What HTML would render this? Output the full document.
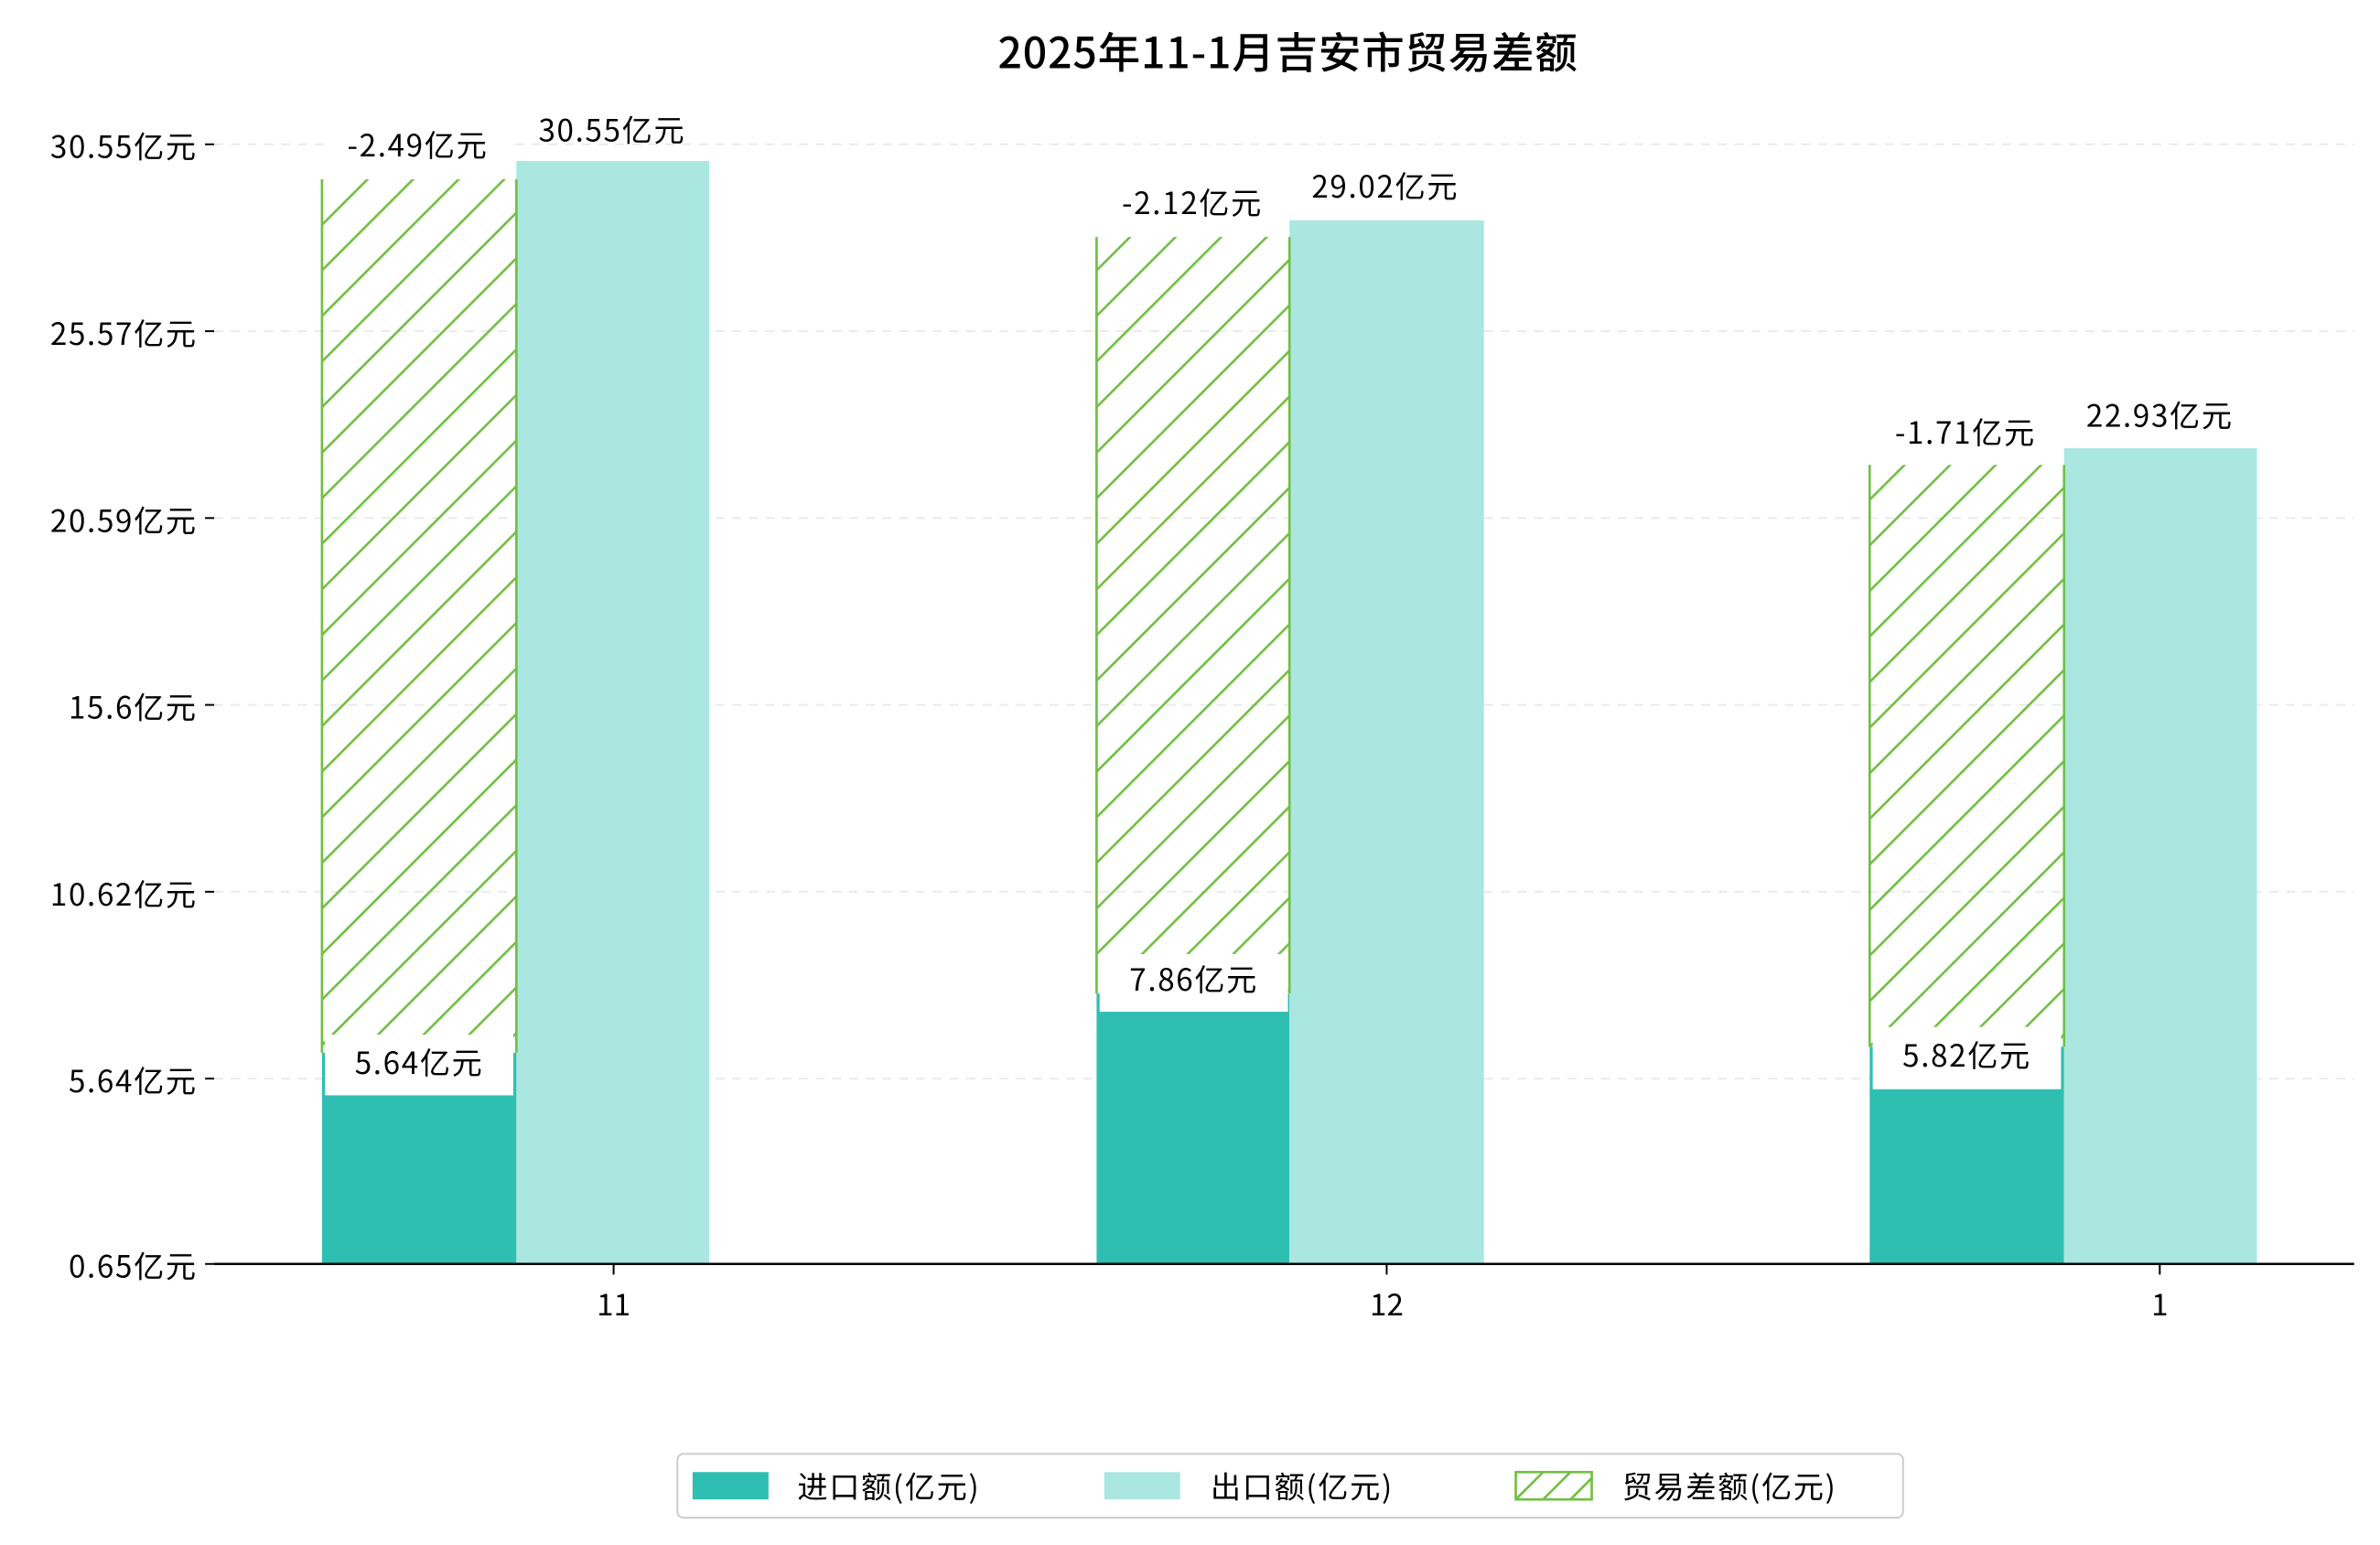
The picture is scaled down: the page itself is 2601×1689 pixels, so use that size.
<!DOCTYPE html>
<html><head><meta charset="utf-8"><style>
html,body{margin:0;padding:0;background:#fff;}
svg{display:block;}
text{font-family:"WenQuanYi Zen Hei","Noto Sans CJK SC","Liberation Sans",sans-serif;fill:#000;}
</style></head><body>
<svg width="2601" height="1689" viewBox="0 0 1567 1017" preserveAspectRatio="none" xmlns="http://www.w3.org/2000/svg">
<defs>
<pattern id="h" patternUnits="userSpaceOnUse" width="30" height="30">
<path d="M-15,15 L15,-15 M0,30 L30,0 M15,45 L45,15" stroke="#72bf44" stroke-width="1.6"/>
</pattern>
</defs>
<rect width="1567" height="1017" fill="#fff"/>
<text x="848" y="45" font-size="28" text-anchor="middle" font-weight="500" letter-spacing="0.5">2025年11-1月吉安市贸易差额</text>
<g stroke="#ebebeb" stroke-width="1.2" stroke-dasharray="6,5">
<line x1="141" y1="95" x2="1550" y2="95"/><line x1="141" y1="218" x2="1550" y2="218"/>
<line x1="141" y1="341" x2="1550" y2="341"/><line x1="141" y1="464" x2="1550" y2="464"/>
<line x1="141" y1="587" x2="1550" y2="587"/><line x1="141" y1="710" x2="1550" y2="710"/>
</g>
<g font-size="20" text-anchor="end" letter-spacing="1">
<text x="130" y="104">30.55亿元</text><text x="130" y="227">25.57亿元</text>
<text x="130" y="350">20.59亿元</text><text x="130" y="473">15.6亿元</text>
<text x="130" y="596">10.62亿元</text><text x="130" y="719">5.64亿元</text>
<text x="130" y="841">0.65亿元</text>
</g>
<g stroke="#000" stroke-width="1.2">
<line x1="135" y1="95" x2="141" y2="95"/><line x1="135" y1="218" x2="141" y2="218"/>
<line x1="135" y1="341" x2="141" y2="341"/><line x1="135" y1="464" x2="141" y2="464"/>
<line x1="135" y1="587" x2="141" y2="587"/><line x1="135" y1="710" x2="141" y2="710"/>
<line x1="135" y1="832" x2="141" y2="832"/>
<line x1="404" y1="832" x2="404" y2="839"/><line x1="913" y1="832" x2="913" y2="839"/><line x1="1422" y1="832" x2="1422" y2="839"/>
</g>
<rect x="212" y="693" width="128" height="139" fill="#2fbfb2"/>
<rect x="722" y="654" width="127" height="178" fill="#2fbfb2"/>
<rect x="1231" y="689" width="128" height="143" fill="#2fbfb2"/>
<rect x="340" y="106" width="127" height="726" fill="#aae7e1"/>
<rect x="849" y="145" width="128" height="687" fill="#aae7e1"/>
<rect x="1359" y="295" width="127" height="537" fill="#aae7e1"/>
<rect x="212" y="118" width="128" height="575" fill="url(#h)"/>
<rect x="722" y="156" width="127" height="498" fill="url(#h)"/>
<rect x="1231" y="306" width="128" height="383" fill="url(#h)"/>
<g stroke="#72bf44" stroke-width="1.6">
<line x1="212" y1="118" x2="212" y2="693"/><line x1="340" y1="118" x2="340" y2="693"/>
<line x1="722" y1="156" x2="722" y2="654"/><line x1="849" y1="156" x2="849" y2="654"/>
<line x1="1231" y1="306" x2="1231" y2="689"/><line x1="1359" y1="306" x2="1359" y2="689"/>
</g>
<g fill="#fff">
<rect x="214" y="76" width="122" height="41"/>
<rect x="724" y="113" width="122" height="42"/>
<rect x="1233" y="264" width="122" height="41"/>
<rect x="214" y="681" width="124" height="40"/>
<rect x="724" y="628" width="124" height="38"/>
<rect x="1233" y="676" width="124" height="41"/>
</g>
<g font-size="20" text-anchor="middle" letter-spacing="1">
<text x="275" y="103">-2.49亿元</text>
<text x="403" y="93">30.55亿元</text>
<text x="785" y="141">-2.12亿元</text>
<text x="912" y="130">29.02亿元</text>
<text x="1294" y="292">-1.71亿元</text>
<text x="1422" y="281">22.93亿元</text>
<text x="276" y="707">5.64亿元</text>
<text x="786" y="652">7.86亿元</text>
<text x="1295" y="702">5.82亿元</text>
</g>
<line x1="141" y1="832" x2="1550" y2="832" stroke="#000" stroke-width="1.5"/>
<g font-size="20" text-anchor="middle">
<text x="404" y="866">11</text><text x="913" y="866">12</text><text x="1422" y="866">1</text>
</g>
<rect x="446" y="957" width="807" height="42" rx="4" fill="#fff" stroke="#ccc" stroke-width="1.2"/>
<rect x="456" y="969" width="50" height="18" fill="#2fbfb2"/>
<text x="525" y="986" font-size="20" letter-spacing="1">进口额(亿元)</text>
<rect x="727" y="969" width="50" height="18" fill="#aae7e1"/>
<text x="797" y="986" font-size="20" letter-spacing="1">出口额(亿元)</text>
<rect x="998" y="969" width="50" height="18" fill="#fff" stroke="#72bf44" stroke-width="1.6"/>
<path d="M998,987 L1016,969 M1016,987 L1034,969 M1034,987 L1048,973" stroke="#72bf44" stroke-width="1.6"/>
<text x="1068" y="986" font-size="20" letter-spacing="1">贸易差额(亿元)</text>
</svg>
</body></html>
